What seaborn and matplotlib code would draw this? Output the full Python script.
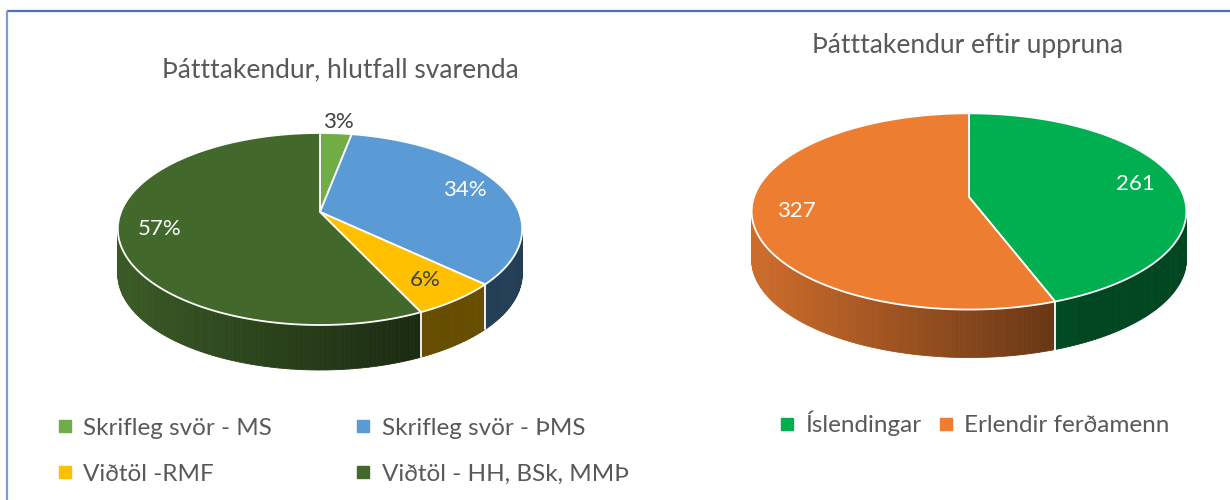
import numpy as np
import seaborn as sns
import matplotlib.pyplot as plt
from matplotlib.patches import Polygon
from matplotlib.lines import Line2D

# data
left_title = "Þátttakendur, hlutfall svarenda"
left_labels = ["Skrifleg svör - MS", "Skrifleg svör - ÞMS", "Viðtöl -RMF", "Viðtöl - HH, BSk, MMÞ"]
left_values = [3, 34, 6, 57]
left_colors = ["#70ad47", "#5b9bd5", "#ffc000", "#43682b"]

right_title = "Þátttakendur eftir uppruna"
right_labels = ["Íslendingar", "Erlendir ferðamenn"]
right_values = [261, 327]
right_colors = ["#00b050", "#ed7d31"]

sns.set_theme(style="white")
plt.rcParams['font.family'] = ['Lato', 'DejaVu Sans']
TEXT = "#595959"


def rim(geo, phi):
    """Point on the top rim, phi in radians clockwise from 12 o'clock."""
    cx, cy, rx, ry, k, depth = geo
    u, v = np.sin(phi), -np.cos(phi)
    s = 1 / (1 - k * v)
    return cx + rx * u * s, cy + ry * v * s


def draw_pie3d(ax, values, colors, geo, fmt, outside_color="#404040"):
    cx, cy, rx, ry, k, depth = geo
    values = np.asarray(values, dtype=float)
    frac = values / values.sum()
    edges = np.concatenate([[0], np.cumsum(frac)]) * 2 * np.pi
    half_w = rx / np.sqrt(1 - k ** 2)
    vis_a = np.arccos(-k)
    vis_b = 2 * np.pi - vis_a

    # side walls, shaded from left to right
    for a, b, col in zip(edges[:-1], edges[1:], colors):
        lo, hi = max(a, vis_a), min(b, vis_b)
        if hi <= lo:
            continue
        base = np.array(plt.matplotlib.colors.to_rgb(col))
        steps = np.linspace(lo, hi, max(int((hi - lo) * 60), 3))
        for p0, p1 in zip(steps[:-1], steps[1:]):
            x0, y0 = rim(geo, p0)
            x1, y1 = rim(geo, p1)
            t = ((x0 + x1) / 2 - (cx - half_w)) / (2 * half_w)
            shade = base * np.clip(0.87 - 0.62 * t, 0.4, 1)
            ax.add_patch(Polygon([(x0, y0), (x1, y1), (x1, y1 + depth), (x0, y0 + depth)],
                                 closed=True, facecolor=shade, edgecolor=shade, lw=0.6))
    for e in edges:
        if vis_a < e % (2 * np.pi) < vis_b:
            x, y = rim(geo, e)
            ax.plot([x, x], [y, y + depth], color="white", lw=1.3)

    # top faces
    for i, (a, b, col) in enumerate(zip(edges[:-1], edges[1:], colors)):
        ph = np.linspace(a, b, 200)
        pts = [(cx, cy)] + [rim(geo, p) for p in ph]
        ax.add_patch(Polygon(pts, closed=True, facecolor=col, edgecolor="white", lw=1.3))

        mid = (a + b) / 2
        r = 0.8 if frac[i] >= 0.05 else 1.17
        u, v = r * np.sin(mid), -r * np.cos(mid)
        s = 1 / (1 - k * v)
        lx, ly = cx + rx * u * s, cy + ry * v * s
        rgb = plt.matplotlib.colors.to_rgb(col)
        lum = 0.299 * rgb[0] + 0.587 * rgb[1] + 0.114 * rgb[2]
        if frac[i] < 0.05 or lum > 0.65:
            tc = outside_color
        else:
            tc = "white"
        ax.text(lx, ly, fmt(values[i], frac[i]), color=tc, fontsize=16,
                ha="center", va="center")


fig = plt.figure(figsize=(12.3, 5), dpi=100)
ax = fig.add_axes([0, 0, 1, 1])
ax.set_xlim(0, 1230)
ax.set_ylim(500, 0)
ax.axis("off")

# chart border (top and left visible)
ax.plot([6.5, 1230], [10.5, 10.5], color="#4a72bd", lw=1.6, solid_capstyle="butt")
ax.plot([6.5, 6.5], [10.5, 500], color="#7f9bd0", lw=1.6, solid_capstyle="butt")

left_geo = (320, 212, 199, 93, 0.177, 45)
right_geo = (969, 197, 215, 96, 0.147, 48)

draw_pie3d(ax, left_values, left_colors, left_geo, lambda v, f: f"{v:.0f}%")
draw_pie3d(ax, right_values, right_colors, right_geo, lambda v, f: f"{v:.0f}")

ax.text(340, 70, left_title, fontsize=19, color=TEXT, ha="center", va="center")
ax.text(968, 45, right_title, fontsize=19, color=TEXT, ha="center", va="center")

# legends
def handles(labels, colors):
    return [Line2D([], [], marker="s", ls="none", markersize=8, color=c, label=l)
            for l, c in zip(labels, colors)]

lh = handles(left_labels, left_colors)
leg1 = ax.legend(handles=[lh[0], lh[2], lh[1], lh[3]], ncol=2, loc="upper left",
                 bbox_to_anchor=(36, 396), bbox_transform=ax.transData,
                 frameon=False, fontsize=17.5, labelcolor=TEXT, handlelength=0.6,
                 handletextpad=0.45, columnspacing=3.45, labelspacing=1.03)
ax.add_artist(leg1)
ax.legend(handles=handles(right_labels, right_colors), ncol=2, loc="upper left",
          bbox_to_anchor=(758, 389), bbox_transform=ax.transData,
          frameon=False, fontsize=17.5, labelcolor=TEXT, handlelength=0.6,
          handletextpad=0.45, columnspacing=0.7)

fig.savefig("out.png", dpi=100)
